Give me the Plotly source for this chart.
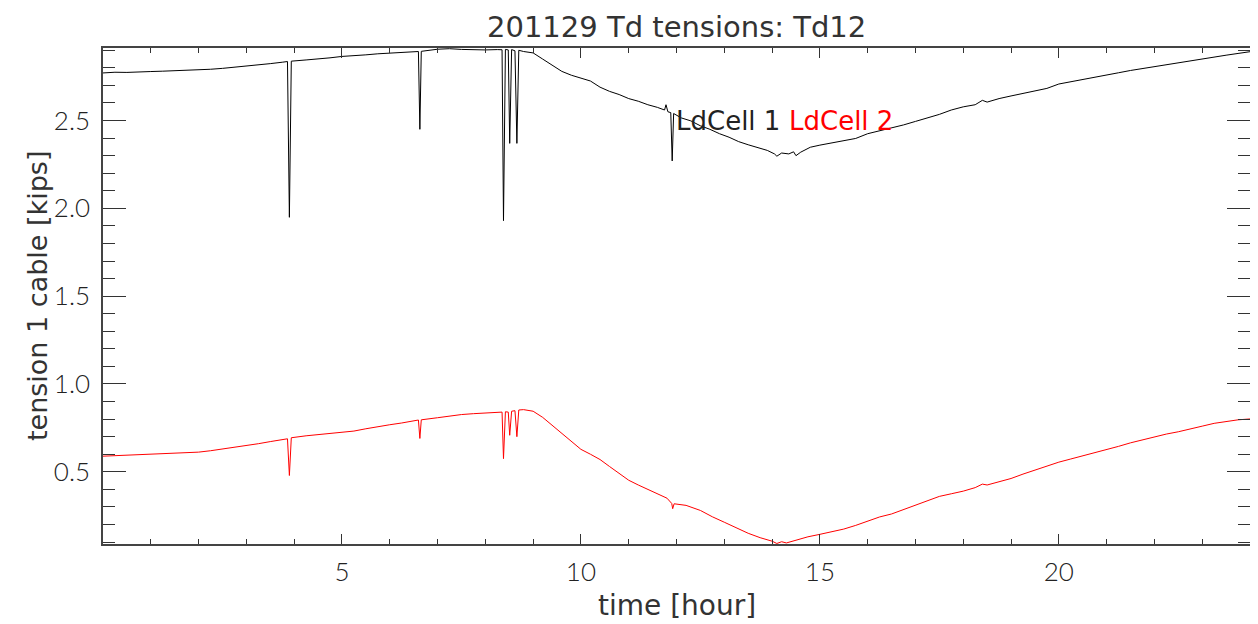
import plotly.graph_objects as go

# ---- data ----
t_cell1 = [0.00, 0.25, 0.50, 0.75, 1.00, 1.25, 1.50, 1.75, 2.00, 2.25, 2.50, 2.75, 3.00, 3.25, 3.50, 3.75,
           3.86, 3.90, 3.94, 4.25, 4.50, 4.75, 5.00, 5.25, 5.50, 5.75, 6.00, 6.25, 6.50, 6.60, 6.63, 6.66,
           7.00, 7.25, 7.50, 7.75, 8.00, 8.25, 8.35, 8.38, 8.42, 8.48, 8.51, 8.55, 8.62, 8.66, 8.70, 8.80,
           9.00, 9.20, 9.40, 9.60, 9.80, 10.0, 10.2, 10.4, 10.6, 10.8, 11.0, 11.2, 11.4, 11.6, 11.75, 11.78,
           11.82, 11.88, 11.91, 11.94, 12.1, 12.3, 12.5, 12.7, 12.9, 13.1, 13.3, 13.5, 13.7, 13.9, 14.05, 14.1,
           14.2, 14.35, 14.45, 14.5, 14.6, 14.8, 15.0, 15.25, 15.5, 15.75, 16.0, 16.25, 16.5, 16.75, 17.0,
           17.25, 17.5, 17.75, 18.0, 18.25, 18.4, 18.5, 18.75, 19.0, 19.25, 19.5, 19.75, 20.0, 20.25, 20.5,
           20.75, 21.0, 21.25, 21.5, 21.75, 22.0, 22.25, 22.5, 22.75, 23.0, 23.25, 23.5, 23.75, 24.0]
v_cell1 = [2.771, 2.775, 2.774, 2.778, 2.779, 2.781, 2.783, 2.784, 2.786, 2.792, 2.797, 2.803, 2.808, 2.816, 2.824, 2.832,
           2.836, 1.949, 2.838, 2.845, 2.850, 2.857, 2.865, 2.868, 2.874, 2.880, 2.885, 2.888, 2.892, 2.893, 2.450, 2.894,
           2.906, 2.909, 2.905, 2.903, 2.902, 2.904, 2.903, 1.930, 2.905, 2.902, 2.370, 2.904, 2.897, 2.370, 2.900, 2.893,
           2.885, 2.850, 2.815, 2.780, 2.758, 2.740, 2.725, 2.690, 2.666, 2.648, 2.625, 2.610, 2.590, 2.575, 2.560, 2.590,
           2.550, 2.545, 2.270, 2.540, 2.515, 2.498, 2.470, 2.450, 2.425, 2.405, 2.380, 2.362, 2.345, 2.330, 2.310, 2.297,
           2.315, 2.310, 2.322, 2.300, 2.320, 2.348, 2.360, 2.373, 2.385, 2.398, 2.425, 2.442, 2.456, 2.475, 2.495,
           2.515, 2.535, 2.560, 2.578, 2.590, 2.615, 2.605, 2.625, 2.640, 2.655, 2.668, 2.683, 2.708, 2.720, 2.733,
           2.745, 2.758, 2.772, 2.785, 2.796, 2.808, 2.820, 2.832, 2.842, 2.852, 2.862, 2.872, 2.882, 2.892]

t_cell2 = [0.00, 0.25, 0.50, 0.75, 1.00, 1.25, 1.50, 1.75, 2.00, 2.25, 2.50, 2.75, 3.00, 3.25, 3.50, 3.75,
           3.86, 3.90, 3.94, 4.25, 4.50, 4.75, 5.00, 5.25, 5.50, 5.75, 6.00, 6.25, 6.50, 6.60, 6.63, 6.66,
           7.00, 7.25, 7.50, 7.75, 8.00, 8.25, 8.35, 8.38, 8.42, 8.48, 8.51, 8.55, 8.62, 8.66, 8.70, 8.80,
           9.00, 9.20, 9.40, 9.60, 9.80, 10.0, 10.2, 10.4, 10.6, 10.8, 11.0, 11.2, 11.4, 11.6, 11.8, 11.9,
           11.92, 11.95, 12.2, 12.5, 12.75, 13.0, 13.25, 13.5, 13.75, 14.0, 14.1, 14.2, 14.3, 14.5, 14.75,
           15.0, 15.25, 15.5, 15.75, 16.0, 16.25, 16.5, 16.75, 17.0, 17.25, 17.5, 17.75, 18.0, 18.25, 18.4,
           18.5, 18.75, 19.0, 19.25, 19.5, 19.75, 20.0, 20.25, 20.5, 20.75, 21.0, 21.25, 21.5, 21.75, 22.0,
           22.25, 22.5, 22.75, 23.0, 23.25, 23.5, 23.75, 24.0]
v_cell2 = [0.589, 0.592, 0.596, 0.600, 0.602, 0.604, 0.607, 0.609, 0.612, 0.620, 0.630, 0.638, 0.646, 0.660, 0.672, 0.683,
           0.688, 0.479, 0.694, 0.705, 0.712, 0.718, 0.724, 0.732, 0.745, 0.758, 0.768, 0.778, 0.790, 0.795, 0.690, 0.796,
           0.808, 0.818, 0.826, 0.831, 0.834, 0.838, 0.840, 0.575, 0.842, 0.840, 0.708, 0.845, 0.848, 0.700, 0.852, 0.854,
           0.845, 0.810, 0.765, 0.720, 0.675, 0.628, 0.600, 0.570, 0.530, 0.490, 0.452, 0.425, 0.400, 0.378, 0.350, 0.320,
           0.290, 0.318, 0.309, 0.280, 0.244, 0.213, 0.183, 0.150, 0.125, 0.105, 0.092, 0.102, 0.095, 0.112, 0.130,
           0.144, 0.160, 0.174, 0.195, 0.220, 0.243, 0.260, 0.285, 0.310, 0.337, 0.360, 0.375, 0.390, 0.410, 0.430,
           0.425, 0.445, 0.462, 0.487, 0.510, 0.530, 0.555, 0.573, 0.590, 0.609, 0.627, 0.645, 0.665, 0.683, 0.700,
           0.715, 0.728, 0.742, 0.760, 0.776, 0.788, 0.796, 0.801]

x_ticks = [5, 10, 15, 20]
y_ticks = [0.5, 1.0, 1.5, 2.0, 2.5]
y_tick_text = ["0.5", "1.0", "1.5", "2.0", "2.5"]

TICKFONT = "Lato, DejaVu Sans, sans-serif"
LABELFONT = "DejaVu Sans, Lato, sans-serif"
TXT = "#333333"

fig = go.Figure()
fig.add_trace(go.Scatter(x=t_cell1, y=v_cell1, mode="lines", name="LdCell 1",
                         line=dict(color="#000000", width=1)))
fig.add_trace(go.Scatter(x=t_cell2, y=v_cell2, mode="lines", name="LdCell 2",
                         line=dict(color="#ff0000", width=1)))

# in-plot legend labels
fig.add_annotation(x=11.95, y=2.5, xref="x", yref="y", text="LdCell 1", showarrow=False,
                   xanchor="left", yanchor="middle", font=dict(family=LABELFONT, size=26, color="#222222"))
fig.add_annotation(x=14.32, y=2.5, xref="x", yref="y", text="LdCell 2", showarrow=False,
                   xanchor="left", yanchor="middle", font=dict(family=LABELFONT, size=26, color="#ff0000"))

# title and axis titles placed explicitly
fig.add_annotation(x=0.5, y=1.0423, xref="paper", yref="paper", text="201129 Td tensions: Td12",
                   showarrow=False, xanchor="center", yanchor="middle", borderpad=0,
                   font=dict(family=LABELFONT, size=29, color=TXT))
fig.add_annotation(x=0.5, y=-0.123, xref="paper", yref="paper", text="time [hour]",
                   showarrow=False, xanchor="center", yanchor="middle",
                   font=dict(family=LABELFONT, size=28, color=TXT))
fig.add_annotation(x=-0.0575, y=0.5, xref="paper", yref="paper", text="tension 1 cable [kips]",
                   showarrow=False, xanchor="center", yanchor="middle", textangle=-90,
                   font=dict(family=LABELFONT, size=27, color=TXT))

# the page adds an 8px body margin, so the figure is sized/offset to compensate
fig.update_layout(
    width=1250, height=616,
    margin=dict(l=95, r=8, t=40, b=80),
    paper_bgcolor="white", plot_bgcolor="white",
    showlegend=False,
    font=dict(family=TICKFONT, color=TXT),
)
fig.update_xaxes(
    range=[0, 24], tickvals=x_ticks, ticks="inside", ticklen=10, tickwidth=1, tickcolor="#333333",
    showline=True, linecolor="#444444", linewidth=1.5, mirror="ticks", showgrid=False, zeroline=False,
    minor=dict(dtick=1, ticks="inside", ticklen=5, tickwidth=1, tickcolor="#333333", showgrid=False),
    tickfont=dict(family=TICKFONT, size=26, color="#222222", weight=300), ticklabelstandoff=4,
    automargin=False,
)
fig.update_yaxes(
    range=[0.089, 2.913], tickvals=y_ticks, ticktext=y_tick_text, ticks="inside", ticklen=23, tickwidth=1,
    tickcolor="#333333", showline=True, linecolor="#444444", linewidth=1.5, mirror="ticks", showgrid=False,
    zeroline=False,
    minor=dict(dtick=0.1, tick0=0, ticks="inside", ticklen=12, tickwidth=1, tickcolor="#333333", showgrid=False),
    tickfont=dict(family=TICKFONT, size=26, color="#222222", weight=300), ticklabelstandoff=6,
    automargin=False,
)

fig.write_html("out.html")
